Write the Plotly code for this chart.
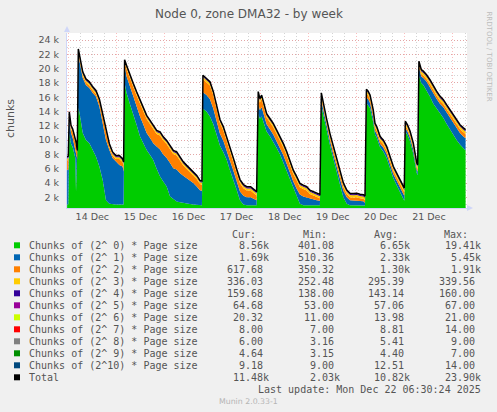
import numpy as np
import pandas as pd
import plotly.graph_objects as go

BASE = pd.Timestamp("2025-12-14 00:00")

# sample times, hours after 14 Dec 00:00
hours = [
    -0.6, 0.0, 0.5, 1.35, 2.2, 3.0, 3.5, 3.85, 4.2, 4.5,
    5.0, 5.5, 6.3, 7.2, 8.8, 10.5, 12.2, 13.8, 15.5, 17.2, 18.0, 18.8, 20.5, 22.1, 23.8, 25.5, 27.1, 27.6,
    28.1, 29.1, 30.8, 32.4, 34.1, 35.8, 37.4, 39.1, 40.8, 42.4, 44.1, 45.8, 47.4, 49.1, 50.8, 52.4, 54.1, 55.8, 57.4, 59.1, 60.7, 62.4, 64.1, 65.7, 66.7,
    67.2, 69.0, 70.7, 72.4, 74.0, 75.7, 77.4, 79.1, 80.7, 82.4, 84.1, 85.7, 87.4, 89.1, 91.0, 93.2, 94.0,
    94.8, 95.6, 96.5, 97.3, 99.0, 100.7, 102.3, 104.0, 105.7, 107.3, 109.0, 110.7, 112.3, 114.0, 115.6, 117.3, 119.0, 120.6, 122.3, 124.0, 125.6,
    126.3, 127.3, 128.9, 130.6, 132.3, 134.0, 135.6, 137.3, 139.0, 140.6, 142.3, 144.0, 145.6, 147.3, 148.1,
    148.8, 149.7, 150.6, 152.2, 153.1, 153.9, 155.6, 156.4, 157.2, 158.9, 160.6, 162.2, 163.9, 165.6, 167.2, 167.7,
    168.2, 169.3, 170.6, 172.2, 173.9, 174.4,
    175.0, 176.2, 177.2, 178.8, 180.5, 182.2, 183.8, 185.5, 187.2, 188.8, 190.5, 192.2, 193.8, 195.5, 197.2, 198.3,
]

order0 = [
    1000, 1000, 11000, 9500, 9000, 8000, 7500, 2800, 6500, 6000,
    14500, 14000, 12500, 11000, 10000, 9550, 8600, 7700, 6300, 4400, 3000, 1600, 1100, 1000, 1000, 1000, 1000, 1000,
    18000, 16600, 15000, 13700, 12100, 10500, 9500, 8600, 7900, 7200, 6000, 4900, 4200, 3500, 2100, 1750, 1400, 1300, 1200, 1100, 1050, 1000, 950, 900, 900,
    14400, 14000, 13300, 12200, 10800, 9200, 8300, 7200, 5800, 4500, 3000, 1600, 1000, 900, 900, 900, 900,
    13700, 13000, 13300, 12600, 11200, 10500, 9800, 8900, 8000, 6900, 5700, 4400, 3300, 2100, 1100, 900, 900, 900, 900, 900, 900,
    14800, 13500, 11200, 9300, 7400, 5400, 3800, 2000, 1100, 900, 900, 900, 900, 900, 850,
    15200, 14900, 14500, 12500, 10800, 10400, 9000, 8700, 8400, 7500, 6100, 4700, 3700, 2700, 1800, 1500,
    11200, 10700, 9800, 8100, 5400, 5100,
    19000, 18000, 17700, 17000, 16100, 15100, 14500, 13800, 13100, 12300, 11500, 10700, 10000, 9400, 8850, 8560,
]

order1 = [
    4800, 4900, 2100, 1500, 1300, 1200, 1400, 5200, 1200, 1300,
    7400, 7100, 7600, 7700, 7700, 7750, 8000, 8400, 8400, 7900, 8200, 8400, 7500, 6500, 6000, 5500, 5300, 4600,
    2400, 2300, 2500, 2400, 2600, 2800, 2700, 2400, 2400, 2350, 3100, 3800, 3800, 4000, 4700, 4300, 4500, 4050, 3800, 3550, 3250, 3000, 2550, 2100, 2000,
    2300, 2300, 2400, 2200, 2000, 1700, 1600, 1400, 1300, 1200, 1200, 1200, 1200, 1100, 1100, 800, 700,
    1300, 1200, 1300, 1200, 1000, 1000, 1000, 900, 900, 1000, 1000, 1000, 900, 1100, 1300, 1200, 1100, 900, 800, 700, 600,
    800, 700, 800, 600, 600, 700, 800, 900, 900, 700, 650, 700, 600, 550, 400,
    800, 800, 700, 600, 500, 500, 500, 500, 550, 550, 550, 550, 600, 650, 650, 700,
    500, 500, 500, 550, 500, 500,
    1100, 900, 1000, 1200, 1300, 1400, 1300, 1300, 1500, 1600, 1650, 1750, 1700, 1600, 1650, 1690,
]

order2 = [
    1350, 1350, 350, 550, 750, 950, 1000, 1250, 900, 750,
    350, 350, 350, 350, 350, 350, 350, 350, 550, 850, 850, 1050, 400, 350, 350, 850, 600, 850,
    350, 1050, 1050, 1350, 1550, 1750, 1950, 1950, 1950, 2000, 1750, 1950, 1950, 1950, 1950, 2000, 1950, 1800, 1450, 1300, 1200, 1050, 1050, 850, 850,
    1850, 1850, 1950, 1850, 1550, 1450, 1450, 1350, 1250, 1250, 1150, 1150, 1050, 950, 950, 750, 650,
    1250, 1050, 1150, 1050, 950, 950, 1000, 1050, 1050, 1100, 1150, 1050, 1050, 1150, 1000, 1050, 950, 650, 550, 450, 350,
    450, 350, 450, 450, 550, 550, 650, 550, 450, 400, 400, 400, 350, 350, 350,
    550, 550, 550, 550, 450, 450, 450, 500, 500, 500, 500, 500, 500, 500, 500, 500,
    350, 350, 350, 350, 350, 350,
    350, 350, 350, 350, 450, 450, 450, 450, 450, 450, 500, 500, 550, 550, 600, 618,
]

# small orders, sampled once a day
small_hours = [-0.6, 24, 48, 72, 96, 120, 144, 168, 198.3]
order3 = [260, 255, 270, 285, 300, 310, 320, 330, 336]
order4 = [140, 138, 139, 140, 141, 142, 145, 150, 160]
order5 = [55, 53, 54, 55, 56, 57, 59, 62, 65]
order6 = [12, 11, 12, 13, 13, 14, 15, 18, 20]
order7 = [14, 12, 10, 9, 8, 8, 7, 7, 8]
order8 = [9, 7, 6, 5, 4, 4, 4, 5, 6]
order9 = [7, 6, 5, 4, 4, 4, 3.5, 4, 4.6]
order10 = [14, 14, 14, 13, 13, 12, 12, 10, 9.2]

labels = [
    "Chunks of (2^ 0) * Page size", "Chunks of (2^ 1) * Page size", "Chunks of (2^ 2) * Page size",
    "Chunks of (2^ 3) * Page size", "Chunks of (2^ 4) * Page size", "Chunks of (2^ 5) * Page size",
    "Chunks of (2^ 6) * Page size", "Chunks of (2^ 7) * Page size", "Chunks of (2^ 8) * Page size",
    "Chunks of (2^ 9) * Page size", "Chunks of (2^10) * Page size", "Total",
]
colors = ["#00CC00", "#0066B3", "#FF8000", "#FFCC00", "#330099", "#990099",
          "#CCFF00", "#FF0000", "#808080", "#008F00", "#00487D", "#000000"]
cur_vals = ["8.56k", "1.69k", "617.68", "336.03", "159.68", "64.68", "20.32", "8.00", "6.00", "4.64", "9.18", "11.48k"]
min_vals = ["401.08", "510.36", "350.32", "252.48", "138.00", "53.00", "11.00", "7.00", "3.16", "3.15", "9.00", "2.03k"]
avg_vals = ["6.65k", "2.33k", "1.30k", "295.39", "143.14", "57.06", "13.98", "8.81", "5.41", "4.40", "12.51", "10.82k"]
max_vals = ["19.41k", "5.45k", "1.91k", "339.56", "160.00", "67.00", "21.00", "14.00", "9.00", "7.00", "14.00", "23.90k"]

ytick_vals = [2000, 4000, 6000, 8000, 10000, 12000, 14000, 16000, 18000, 20000, 22000, 24000]
ytick_text = ["2 k", "4 k", "6 k", "8 k", "10 k", "12 k", "14 k", "16 k", "18 k", "20 k", "22 k", "24 k"]

times = [BASE + pd.Timedelta(hours=h) for h in hours]
small = [np.interp(hours, small_hours, s) for s in
         (order3, order4, order5, order6, order7, order8, order9, order10)]
stack = [np.array(order0, float), np.array(order1, float), np.array(order2, float)] + small
total = np.sum(stack, axis=0)

fig = go.Figure()
for vals, col in zip(stack, colors[:11]):
    fig.add_trace(go.Scatter(x=times, y=vals, mode="lines", stackgroup="all",
                             line=dict(width=0, color=col), fillcolor=col, hoverinfo="skip"))
fig.add_trace(go.Scatter(x=times, y=total, mode="lines",
                         line=dict(color="#000000", width=1.5), hoverinfo="skip"))

L, R, T, B = 67, 467, 33, 208
def px(X):
    return (X - L) / (R - L)
def py(Y):
    return (B - Y) / (B - T)

MONO = "DejaVu Sans Mono"
SANS = "DejaVu Sans"
TXT = "#555555"
ann = []
shapes = []

ann.append(dict(x=px(248.5), y=py(13.5), text="Node 0, zone DMA32 - by week",
                font=dict(family=SANS, size=12, color=TXT)))
ann.append(dict(x=px(10), y=py(119), text="chunks", textangle=-90,
                font=dict(family=SANS, size=11, color=TXT)))
ann.append(dict(x=px(488.5), y=py(56), text="RRDTOOL / TOBI OETIKER", textangle=90,
                font=dict(family=SANS, size=7, color="#BBBBBB")))

for hdr, xr in zip(["Cur:", "Min:", "Avg:", "Max:"], [258, 329, 400, 470]):
    ann.append(dict(x=px(xr), y=py(234), text=hdr, xanchor="right",
                    font=dict(family=MONO, size=10, color=TXT)))

def fmt(v):
    return v if v.endswith("k") else v + "\u00a0"

for i, lab in enumerate(labels):
    yc = 245.3 + 12 * i
    shapes.append(dict(type="rect", xref="paper", yref="paper",
                       x0=px(14), x1=px(20), y0=py(yc + 3), y1=py(yc - 3),
                       fillcolor=colors[i], line=dict(width=0)))
    ann.append(dict(x=px(26.7), y=py(yc), text=lab, xanchor="left",
                    font=dict(family=MONO, size=10, color=TXT)))
    for col_vals, xr in zip([cur_vals, min_vals, avg_vals, max_vals], [271.3, 342, 412.3, 483]):
        ann.append(dict(x=px(xr), y=py(yc), text=fmt(col_vals[i]), xanchor="right",
                        font=dict(family=MONO, size=10, color=TXT)))

ann.append(dict(x=px(483.3), y=py(389.7), text="Last update: Mon Dec 22 06:30:24 2025",
                xanchor="right", font=dict(family=MONO, size=10, color=TXT)))
ann.append(dict(x=px(248.7), y=py(401.7), text="Munin 2.0.33-1",
                font=dict(family=SANS, size=7.8, color="#B5B5B5")))

for a in ann:
    a.update(xref="paper", yref="paper", showarrow=False)
    a.setdefault("xanchor", "center")
    a.setdefault("yanchor", "middle")

AX = "#CFD6F8"
shapes.append(dict(type="path", xref="paper", yref="paper", fillcolor=AX, line=dict(width=0),
                   path=f"M {px(64)},{py(32)} L {px(70)},{py(32)} L {px(67)},{py(26)} Z"))
shapes.append(dict(type="path", xref="paper", yref="paper", fillcolor=AX, line=dict(width=0),
                   path=f"M {px(467)},{py(205)} L {px(467)},{py(211)} L {px(473)},{py(208)} Z"))

MAJ = "rgba(245,110,110,0.45)"
MIN = "rgba(160,160,160,0.45)"
fig.update_layout(
    width=497, height=412,
    margin=dict(l=L, r=497 - R, t=T, b=412 - B),
    paper_bgcolor="#F0F0F0", plot_bgcolor="#FFFFFF",
    showlegend=False,
    annotations=ann, shapes=shapes,
    xaxis=dict(type="date", range=["2025-12-13 23:21", "2025-12-22 07:00"],
               tick0="2025-12-14", dtick=86400000, ticklabelmode="period", tickformat="%d %b",
               showgrid=True, gridcolor=MAJ, griddash="1px,2px", gridwidth=1,
               minor=dict(dtick=21600000, showgrid=True, gridcolor=MIN, griddash="1px,2px"),
               showline=True, linecolor=AX, linewidth=1, zeroline=False, ticks="",
               tickfont=dict(family=SANS, size=9.5, color=TXT)),
    yaxis=dict(range=[503, 24980], tickvals=ytick_vals, ticktext=ytick_text,
               showgrid=True, gridcolor=MAJ, griddash="1px,2px", gridwidth=1,
               minor=dict(dtick=1000, tick0=0, showgrid=True, gridcolor=MIN, griddash="1px,2px"),
               showline=True, linecolor=AX, linewidth=1, zeroline=False, ticks="",
               ticklabelstandoff=5,
               tickfont=dict(family=SANS, size=9.5, color=TXT)),
)

fig.write_html("out.html", config={"displayModeBar": False},
               post_script="document.body.style.margin='0px';document.body.style.padding='0px';"
                           "document.documentElement.style.overflow='hidden';")
